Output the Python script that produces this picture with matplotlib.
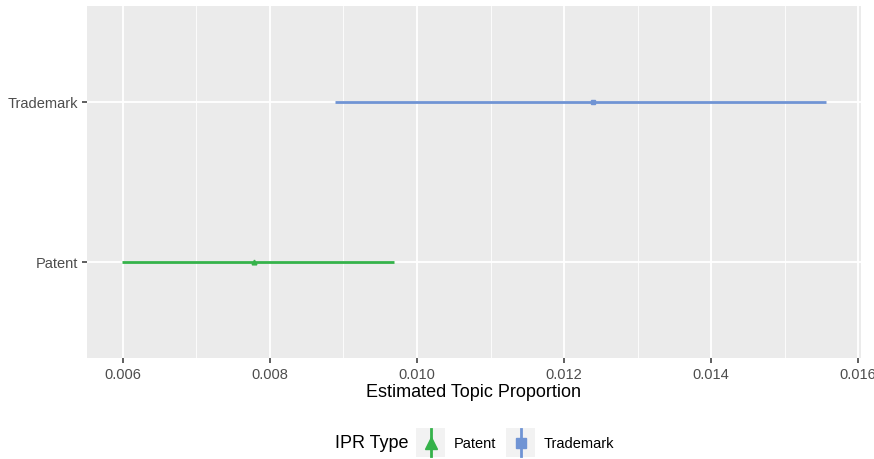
import matplotlib
matplotlib.use("Agg")
import matplotlib.pyplot as plt
from matplotlib.lines import Line2D
from matplotlib.patches import Rectangle

plt.rcParams['font.family'] = ['Liberation Sans', 'DejaVu Sans']

categories = ["Patent", "Trademark"]
means = [0.00778, 0.01239]
lows = [0.00599, 0.00888]
highs = [0.00969, 0.01556]
colors = ["#35B24A", "#7094D4"]
markers = ["^", "s"]
xticks = [0.006, 0.008, 0.010, 0.012, 0.014, 0.016]
xtick_labels = ["0.006", "0.008", "0.010", "0.012", "0.014", "0.016"]

W, H = 874, 460
fig = plt.figure(figsize=(W / 100, H / 100), dpi=100)

def fx(px):
    return px / W

def fy(py):
    return 1 - py / H

ax = fig.add_axes([fx(87), fy(359), fx(861) - fx(87), fy(7) - fy(359)])
ax.set_facecolor("#EBEBEB")
for s in ax.spines.values():
    s.set_visible(False)

rng = max(highs) - min(lows)
ax.set_xlim(min(lows) - 0.05 * rng, max(highs) + 0.05 * rng)
ax.set_ylim(0.4, 2.6)

# grid
for xm in [0.007, 0.009, 0.011, 0.013, 0.015]:
    ax.axvline(xm, color="white", lw=0.6, zorder=0)
for xt in xticks:
    ax.axvline(xt, color="white", lw=1.3, zorder=0)
for yi in [1, 2]:
    ax.axhline(yi, color="white", lw=1.3, zorder=0)

for i, cat in enumerate(categories):
    y = i + 1
    ax.plot([lows[i], highs[i]], [y, y], color=colors[i], lw=2.0, solid_capstyle="butt", zorder=2)
    ax.plot([means[i]], [y], marker=markers[i], color=colors[i], ms=3.4, mec=colors[i], zorder=3)

ax.set_xticks(xticks)
ax.set_xticklabels(xtick_labels)
ax.set_yticks([1, 2])
ax.set_yticklabels(categories)
ax.tick_params(axis="both", colors="#333333", length=3.5, width=1.1, labelsize=10.5, labelcolor="#4D4D4D")
ax.tick_params(axis="x", pad=3)
ax.tick_params(axis="y", pad=3)
for lab in ax.get_xticklabels():
    lab.set_clip_on(False)

fig.text(fx(474), fy(393), "Estimated Topic Proportion", ha="center", va="center", fontsize=13, color="black")

# legend
fig.text(fx(335), fy(444), "IPR Type", ha="left", va="center", fontsize=13, color="black")
keys = [(416, "Patent", 454), (506, "Trademark", 544)]
for i, (kx, lab, tx) in enumerate(keys):
    fig.add_artist(Rectangle((fx(kx), fy(458)), fx(29), fy(429) - fy(458), transform=fig.transFigure,
                             facecolor="#F2F2F2", edgecolor="none"))
    cxp = kx + 14.5
    fig.add_artist(Line2D([fx(cxp), fx(cxp)], [fy(457), fy(430)], transform=fig.transFigure,
                          color=colors[i], lw=2.0))
    fig.add_artist(Line2D([fx(cxp)], [fy(443.5)], transform=fig.transFigure, marker=markers[i],
                          color=colors[i], ms=9 if markers[i] == "^" else 7.5, lw=0))
    fig.text(fx(tx), fy(444), lab, ha="left", va="center", fontsize=10.5, color="black")

fig.savefig("out.png", dpi=100)
